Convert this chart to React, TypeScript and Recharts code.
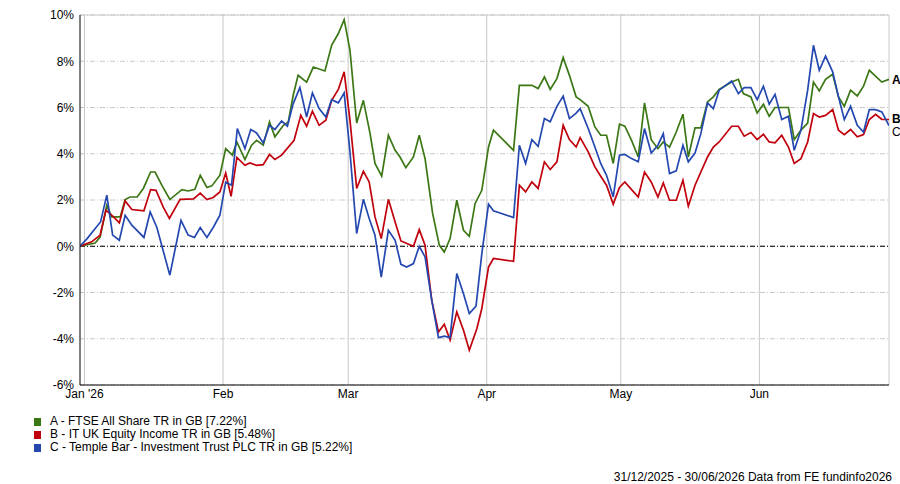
import { LineChart, Line, XAxis, YAxis, CartesianGrid, ReferenceLine } from 'recharts'

// day = days since 31/12/2025, value = cumulative return in %
const ftseAllShare: [number, number][] = [
    [0, 0], [3.4, 0.14], [4.5, 0.4], [6, 1.77], [7.1, 1.27], [9, 1.27], [10.1, 2.02], [11.2, 2.13],
    [12.8, 2.13], [14.2, 2.51], [15.8, 3.21], [16.8, 3.21], [18.3, 2.64], [20.1, 2.02], [22.8, 2.45],
    [24.2, 2.39], [25.7, 2.46], [26.9, 3.07], [28.4, 2.54], [29.5, 2.61], [31.3, 3.07], [32.6, 4.22],
    [34.1, 3.94], [35.1, 4.51], [36.9, 3.75], [38.4, 4.37], [39.5, 4.58], [41, 4.37], [42.4, 5.38],
    [43.6, 4.73], [45.5, 5.23], [46.6, 5.38], [47.7, 6.53], [48.8, 7.39], [50.7, 7.1], [52.2, 7.75],
    [54.8, 7.58], [56.3, 8.69], [57.8, 9.2], [59.1, 9.8], [60.4, 8.48], [61.9, 5.33], [63.4, 6.31],
    [64.9, 4.87], [66, 3.58], [67.5, 3.03], [69, 4.8], [70.5, 4.15], [71.6, 3.86], [72.9, 3.4],
    [74.6, 3.86], [75.9, 4.8], [77.2, 3.79], [78.9, 1.41], [80.4, 0.04], [81.5, -0.25], [82.8, 0.33],
    [84.3, 1.99], [85.8, 0.69], [87.1, 0.43], [88.4, 1.85], [89.9, 2.42], [91.4, 4.29], [92.5, 5.02],
    [97, 4.15], [98.3, 6.96], [101.1, 6.96], [102.5, 6.82], [103.9, 7.32], [105.2, 6.78], [106.7, 7.25],
    [108.1, 8.16], [109.5, 7.39], [111, 6.46], [111.9, 6.34], [113.7, 6.05], [115.2, 5.16], [116.5, 4.8],
    [117.8, 4.8], [119.3, 3.58], [120.7, 5.28], [121.9, 5.19], [123.4, 4.58], [124.9, 3.86], [126.3, 6.2],
    [127.8, 4.61], [129.3, 4.22], [130.5, 4.51], [131.9, 4.29], [133.4, 4.94], [134.9, 5.71], [136.1, 3.86],
    [137.6, 5.12], [138.9, 5.12], [140.4, 6.24], [141.7, 6.46], [143, 6.78], [145.8, 7.1], [147.3, 7.22],
    [148.4, 6.6], [150.1, 6.46], [151.5, 5.76], [152.9, 6.14], [154.2, 5.62], [155.5, 6], [158.5, 6],
    [159.8, 4.61], [161.3, 5.02], [162.8, 5.33], [164.1, 7.1], [165.4, 6.72], [166.8, 7.22], [168.4, 7.44],
    [169.7, 6.46], [171, 6.05], [172.4, 6.75], [173.9, 6.5], [175.3, 6.92], [176.6, 7.61], [179.4, 7.1],
    [181, 7.22],
]

const itUkEquityIncome: [number, number][] = [
    [0, 0], [2.6, 0.19], [4.5, 0.48], [5.8, 1.56], [7.5, 1.27], [8.8, 1.01], [10.1, 1.96], [11.6, 1.59],
    [14.3, 1.53], [15.8, 2.45], [17, 2.42], [18.6, 1.7], [20, 1.2], [22.4, 2.03], [25.4, 2.05], [26.9, 2.3],
    [28.4, 2.02], [29.8, 2.11], [31.3, 2.35], [32.6, 3.17], [33.8, 2.16], [35.1, 3.84], [36.9, 3.5],
    [38, 3.6], [39.5, 3.5], [41, 3.53], [42.4, 3.97], [43.6, 3.75], [45.1, 3.94], [47.9, 4.58],
    [49.4, 5.66], [50.7, 5.19], [52, 5.84], [53.5, 5.23], [55, 5.45], [56.3, 6.31], [57.8, 6.78],
    [59.1, 7.54], [60.4, 5.45], [61.9, 2.5], [63.4, 3.24], [64.7, 2.78], [66, 1.27], [67.4, 0.33],
    [69, 2.03], [70.5, 1.05], [71.8, 0.23], [74.6, 0], [75.9, 0.72], [77.2, 0.04], [78.7, -2.34],
    [80.2, -3.71], [81.5, -3.37], [82.8, -4.06], [84.3, -2.84], [85.8, -3.63], [87.1, -4.5], [88.8, -3.56],
    [89.9, -2.69], [91.4, -0.9], [92.5, -0.53], [97, -0.65], [98.3, 2.64], [99.7, 2.35], [101.1, 2.78],
    [102.5, 2.5], [103.9, 3.65], [105.2, 3.32], [106.7, 3.65], [108.1, 5.23], [109.5, 4.61], [111, 4.29],
    [111.9, 4.7], [113.7, 4.08], [115.2, 3.43], [116.5, 3.03], [117.8, 2.64], [119.3, 1.82], [120.7, 2.54],
    [121.9, 2.78], [123.4, 2.45], [124.9, 2.13], [126.3, 3.21], [127.8, 2.78], [129.3, 2.13], [130.5, 2.74],
    [131.9, 1.99], [133.4, 1.99], [134.9, 2.85], [136.1, 1.73], [137.6, 2.64], [140.4, 3.86], [141.7, 4.29],
    [143, 4.51], [145.8, 5.19], [147.3, 5.19], [148.6, 4.76], [150.1, 4.92], [151.5, 4.61], [152.9, 4.84],
    [154.2, 4.51], [155.5, 4.47], [157, 4.8], [158.5, 4.29], [159.8, 3.58], [161.3, 3.79], [162.8, 4.51],
    [164.1, 5.74], [165.4, 5.59], [166.8, 5.66], [168.4, 5.91], [169.7, 5.02], [171, 4.83], [172.4, 5.05],
    [173.9, 4.73], [175.3, 4.83], [176.6, 5.48], [178, 5.7], [179.4, 5.49], [181, 5.48],
]

const templeBar: [number, number][] = [
    [0, 0], [1.6, 0.33], [3.4, 0.77], [4.6, 1.05], [6, 2.21], [7.3, 0.48], [8.8, 0.26], [10.1, 1.34],
    [11.6, 0.91], [14.3, 0.38], [15.7, 1.48], [17.2, 0.81], [20.1, -1.25], [22.6, 1.12], [24.2, 0.48],
    [25.6, 0.38], [26.9, 0.81], [28.4, 0.38], [29.8, 0.81], [31.3, 1.34], [32.6, 2.78], [33.9, 2.64],
    [35.2, 5.09], [36.9, 4.22], [38.2, 5.05], [39.5, 4.9], [41, 4.47], [42.4, 5.23], [43.6, 5.05],
    [45.1, 5.42], [46.4, 5.19], [47.7, 6.17], [49.2, 6.86], [50.7, 5.59], [52, 6.63], [53.5, 5.95],
    [55, 5.59], [56.3, 6.34], [57.8, 6.2], [59.1, 6.63], [60.4, 4.08], [61.9, 0.55], [63.4, 2.03],
    [64.7, 1.2], [66, 0.48], [67.4, -1.33], [69, 0.69], [70.5, 0.26], [71.8, -0.78], [73.1, -0.9],
    [74.6, -0.75], [75.9, 0], [77.2, -0.46], [78.7, -2.34], [80.2, -3.95], [81.5, -3.89], [82.8, -3.95],
    [84.3, -1.18], [85.8, -2.05], [87.1, -2.91], [88.6, -2.59], [89.9, -0.32], [91.4, 1.82], [92.5, 1.53],
    [97, 1.24], [98.3, 4.37], [99.7, 3.58], [101.1, 4.61], [102.5, 4.32], [103.9, 5.52], [105.2, 5.38],
    [106.7, 6.05], [108.1, 6.49], [109.5, 5.52], [111, 5.76], [111.9, 5.95], [113.7, 5.09], [115.2, 4.29],
    [116.5, 3.58], [117.8, 3.07], [119.3, 2.13], [120.7, 3.94], [121.9, 3.97], [123.4, 3.79], [124.9, 3.65],
    [126.3, 5.09], [127.8, 4.03], [129.3, 4.37], [130.5, 4.87], [131.9, 3.14], [133.4, 3.26], [134.9, 4.37],
    [136.1, 3.65], [137.6, 4.03], [138.9, 4.87], [140.4, 6.2], [141.7, 5.95], [143, 6.75], [145.8, 7.15],
    [147.3, 6.6], [148.6, 6.86], [150.1, 6.86], [151.5, 6.34], [152.9, 6.92], [154.2, 6.14], [155.5, 6.57],
    [157, 5.48], [158.5, 5.62], [159.8, 4.15], [161.3, 5.02], [162.8, 6.75], [164.1, 8.69], [165.4, 7.61],
    [166.8, 8.22], [168.4, 7.54], [169.7, 6.46], [171, 5.48], [172.4, 6.05], [173.9, 5.23], [175.3, 4.94],
    [176.6, 5.91], [178, 5.91], [179.4, 5.81], [181, 5.22],
]

const monthTicks = [1, 32, 60, 91, 121, 152]
const monthLabels = ["Jan '26", 'Feb', 'Mar', 'Apr', 'May', 'Jun']
const yTicks = [-6, -4, -2, 0, 2, 4, 6, 8, 10]

const series = [
    { key: 'A', name: 'A - FTSE All Share TR in GB [7.22%]', color: '#3b7714', points: ftseAllShare, dy: 0, bold: true },
    { key: 'B', name: 'B - IT UK Equity Income TR in GB [5.48%]', color: '#c0000c', points: itUkEquityIncome, dy: -1, bold: true },
    { key: 'C', name: 'C - Temple Bar - Investment Trust PLC TR in GB [5.22%]', color: '#2448b0', points: templeBar, dy: 6, bold: false },
]

const font = '"Liberation Sans", Arial, sans-serif'

export default function App() {
    return (
        <div style={{ position: 'fixed', left: 0, top: 0, width: 900, height: 484, background: '#fff', fontFamily: font }}>
            <LineChart width={900} height={484} margin={{ top: 15, right: 11, bottom: 79, left: 10 }}>
                <CartesianGrid horizontal={true} vertical={false} stroke="#c8c8c8" strokeDasharray="5 2 1 2" />
                {monthTicks.map(d => (
                    <ReferenceLine key={d} x={d} stroke="#c8c8c8" strokeWidth={1} />
                ))}
                <ReferenceLine y={10} stroke="#c8c8c8" />
                <ReferenceLine x={181} stroke="#c8c8c8" />
                <ReferenceLine y={0} stroke="#000" strokeDasharray="5 2 1 2" />
                <XAxis
                    type="number"
                    dataKey="day"
                    domain={[0, 181]}
                    ticks={monthTicks}
                    tickFormatter={(v: number) => monthLabels[monthTicks.indexOf(v)]}
                    allowDataOverflow
                    tickSize={0}
                    tickMargin={4}
                    height={20}
                    stroke="#000"
                    tick={{ fill: '#000', fontSize: 12, fontFamily: font }}
                />
                <YAxis
                    type="number"
                    domain={[-6, 10]}
                    ticks={yTicks}
                    tickFormatter={(v: number) => `${v}%`}
                    allowDataOverflow
                    width={70}
                    tickSize={0}
                    tickMargin={6}
                    stroke="#000"
                    tick={{ fill: '#000', fontSize: 12, fontFamily: font }}
                />
                {series.map(s => (
                    <Line
                        key={s.key}
                        data={s.points.map(([day, value]) => ({ day, value }))}
                        dataKey="value"
                        name={s.name}
                        stroke={s.color}
                        strokeWidth={1.7}
                        dot={false}
                        isAnimationActive={false}
                        label={(p: any) =>
                            p.index === s.points.length - 1 ? (
                                <text
                                    key={`lbl-${s.key}`}
                                    x={p.x + 3}
                                    y={p.y + s.dy}
                                    dy="0.36em"
                                    fontSize={12}
                                    fontWeight={s.bold ? 'bold' : 'normal'}
                                    fontFamily={font}
                                    fill="#000"
                                >
                                    {s.key}
                                </text>
                            ) : (
                                <g key={`lbl-${s.key}-${p.index}`} />
                            )
                        }
                    />
                ))}
            </LineChart>
            <div style={{ position: 'absolute', left: 34, top: 415, fontSize: 12, lineHeight: '13px', color: '#000' }}>
                {series.map(s => (
                    <div key={s.key} style={{ display: 'flex', alignItems: 'center', height: 13 }}>
                        <span style={{ width: 7, height: 8, background: s.color, marginRight: 9 }} />
                        <span>{s.name}</span>
                    </div>
                ))}
            </div>
            <div
                style={{
                    position: 'absolute',
                    right: 8,
                    top: 470,
                    fontSize: 12,
                    color: '#000',
                    whiteSpace: 'nowrap',
                }}
            >
                31/12/2025 - 30/06/2026 Data from FE fundinfo2026
            </div>
        </div>
    )
}
